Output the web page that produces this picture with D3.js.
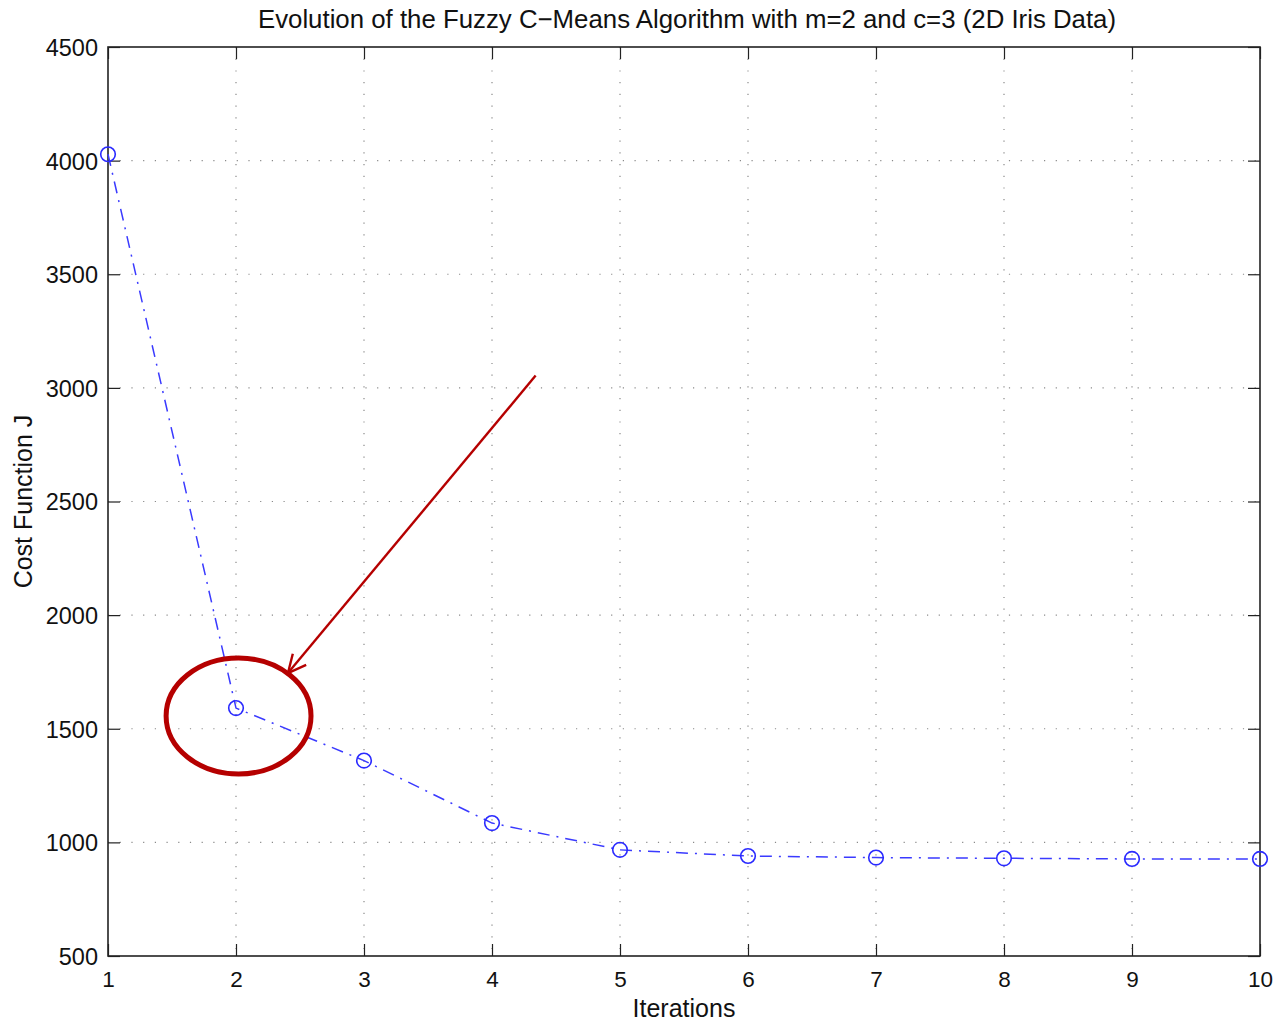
<!DOCTYPE html>
<html>
<head>
<meta charset="utf-8">
<script src="https://cdn.jsdelivr.net/npm/d3@7"></script>
<style>
  html, body { margin: 0; padding: 0; background: #fff; }
  svg { display: block; font-family: "Liberation Sans", Arial, sans-serif; }
</style>
</head>
<body>
<svg id="chart" width="1280" height="1023"></svg>
<script>
const iterations = [1, 2, 3, 4, 5, 6, 7, 8, 9, 10];
const costJ = [4028, 1591, 1360, 1085, 967, 940, 933, 930, 927, 927];
const yTicks = [500, 1000, 1500, 2000, 2500, 3000, 3500, 4000, 4500];
const xTicks = [1, 2, 3, 4, 5, 6, 7, 8, 9, 10];
const titleText = "Evolution of the Fuzzy C\u2212Means Algorithm with m=2 and c=3 (2D Iris Data)";
const xLabel = "Iterations";
const yLabel = "Cost Function J";
// annotation in data coordinates
const ellipseCenter = [2.02, 1556];
const ellipseRadii = [0.566, 255];
const arrowFrom = [4.341, 3054];
const arrowTo = [2.406, 1745];

const margin = { left: 108, right: 20, top: 47, bottom: 67 };
const W = 1280, H = 1023;
const svg = d3.select("#chart");
const x = d3.scaleLinear().domain([1, 10]).range([margin.left, W - margin.right]);
const y = d3.scaleLinear().domain([500, 4500]).range([H - margin.bottom, margin.top]);
const x0 = x.range()[0], x1 = x.range()[1], y0 = y.range()[0], y1 = y.range()[1];

// grid
const grid = svg.append("g").attr("stroke", "#8a8a8a").attr("stroke-width", 1.2).attr("stroke-dasharray", "1.2,10.5");
grid.selectAll("line.v").data(xTicks.slice(1, -1)).join("line")
  .attr("x1", d => x(d)).attr("x2", d => x(d)).attr("y1", y1).attr("y2", y0);
grid.selectAll("line.h").data(yTicks.slice(1, -1)).join("line")
  .attr("y1", d => y(d)).attr("y2", d => y(d)).attr("x1", x0).attr("x2", x1);

// axes (inward ticks)
const tickLen = 12;
const fmt = d => String(d);
const axB = svg.append("g").attr("transform", `translate(0,${y0})`)
  .call(d3.axisBottom(x).tickValues(xTicks).tickSizeInner(-tickLen).tickSizeOuter(0).tickFormat(fmt));
const axT = svg.append("g").attr("transform", `translate(0,${y1})`)
  .call(d3.axisTop(x).tickValues(xTicks).tickSizeInner(-tickLen).tickSizeOuter(0).tickFormat(""));
const axL = svg.append("g").attr("transform", `translate(${x0},0)`)
  .call(d3.axisLeft(y).tickValues(yTicks).tickSizeInner(-tickLen).tickSizeOuter(0).tickFormat(fmt));
const axR = svg.append("g").attr("transform", `translate(${x1},0)`)
  .call(d3.axisRight(y).tickValues(yTicks).tickSizeInner(-tickLen).tickSizeOuter(0).tickFormat(""));
[axB, axT, axL, axR].forEach(a => {
  a.select(".domain").remove();
  a.selectAll(".tick line").attr("stroke", "#222").attr("stroke-width", 1.2);
  a.selectAll(".tick text").attr("fill", "#111").attr("font-family", "Liberation Sans, Arial, sans-serif");
});
axB.selectAll(".tick text").attr("font-size", 22.5).attr("dy", null).attr("y", 31);
axL.selectAll(".tick text").attr("font-size", 23.5).attr("x", -10).attr("dy", "0.36em");
svg.append("rect").attr("x", x0).attr("y", y1).attr("width", x1 - x0).attr("height", y0 - y1)
  .attr("fill", "none").attr("stroke", "#222").attr("stroke-width", 1.6);

// data line
const pts = iterations.map((d, i) => [d, costJ[i]]);
svg.append("path").datum(pts)
  .attr("d", d3.line().x(d => x(d[0])).y(d => y(d[1])))
  .attr("fill", "none").attr("stroke", "#3a3aff").attr("stroke-width", 1.5)
  .attr("stroke-dasharray", "12,7,2,7");
svg.selectAll("circle.pt").data(pts).join("circle")
  .attr("cx", d => x(d[0])).attr("cy", d => y(d[1])).attr("r", 7.3)
  .attr("fill", "none").attr("stroke", "#2a2aff").attr("stroke-width", 1.6);

// annotation
const red = "#b50000";
svg.append("ellipse")
  .attr("cx", x(ellipseCenter[0])).attr("cy", y(ellipseCenter[1]))
  .attr("rx", x(1 + ellipseRadii[0]) - x(1)).attr("ry", y(500) - y(500 + ellipseRadii[1]))
  .attr("fill", "none").attr("stroke", red).attr("stroke-width", 5);
const ax1 = x(arrowFrom[0]), ay1 = y(arrowFrom[1]), ax2 = x(arrowTo[0]), ay2 = y(arrowTo[1]);
svg.append("line").attr("x1", ax1).attr("y1", ay1).attr("x2", ax2).attr("y2", ay2)
  .attr("stroke", red).attr("stroke-width", 2.4);
const ang = Math.atan2(ay1 - ay2, ax1 - ax2);
const hl = 20, spread = 0.45;
const head = [[ax2 + hl * Math.cos(ang - spread), ay2 + hl * Math.sin(ang - spread)], [ax2, ay2], [ax2 + hl * Math.cos(ang + spread), ay2 + hl * Math.sin(ang + spread)]];
svg.append("path").attr("d", d3.line()(head)).attr("fill", "none").attr("stroke", red).attr("stroke-width", 2.4);

// labels
svg.append("text").attr("x", 687).attr("y", 28).attr("text-anchor", "middle")
  .attr("font-size", 25.8).attr("fill", "#111").text(titleText);
svg.append("text").attr("x", (x0 + x1) / 2).attr("y", 1017).attr("text-anchor", "middle")
  .attr("font-size", 25).attr("fill", "#111").text(xLabel);
svg.append("text").attr("transform", `translate(32,${(y0 + y1) / 2}) rotate(-90)`).attr("text-anchor", "middle")
  .attr("font-size", 25).attr("fill", "#111").text(yLabel);
</script>
</body>
</html>
